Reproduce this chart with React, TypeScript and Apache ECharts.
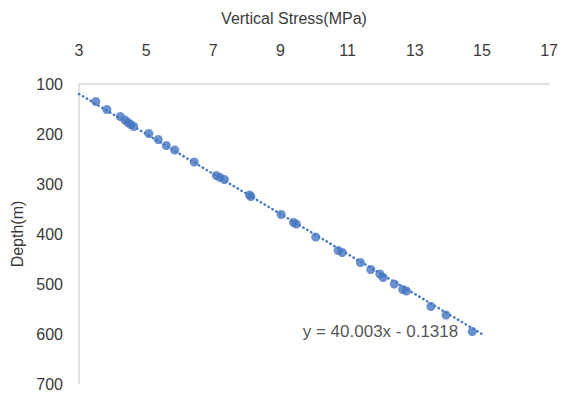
import React, { useEffect, useRef } from "react";
import * as echarts from "echarts";

// Measured vertical stress (MPa) and matching depth (m)
const stress = [
  3.5, 3.83, 4.23, 4.37, 4.46, 4.54, 4.63, 5.08, 5.36, 5.6, 5.85, 6.43, 7.09, 7.2, 7.33,
  8.08, 8.12, 9.02, 9.39, 9.47, 10.05, 10.72, 10.84, 11.38, 11.69, 11.96, 12.06, 12.39,
  12.64, 12.75, 13.48, 13.93, 14.71,
];
const depth = [
  135, 151, 165, 172, 177, 181, 185, 199, 211, 223, 232, 256, 283, 287, 291,
  322, 325, 361, 377, 380, 406, 433, 437, 457, 471, 480, 487, 500,
  511, 514, 545, 562, 595,
];

// Linear fit: depth = slope * stress + intercept
const slope = 40.003;
const intercept = -0.1318;
const fitRange = [3, 15];
const equationText = "y = 40.003x - 0.1318";

const xTicks = [3, 17, 2]; // min, max, interval
const yTicks = [100, 700, 100];

const FONT = "'Liberation Sans', Arial, sans-serif";
const TEXT = "#3a3a3a";
const BLUE = "#4677c2";

export default function App() {
  const ref = useRef<HTMLDivElement>(null);

  useEffect(() => {
    if (!ref.current) return;
    const chart = echarts.init(ref.current, undefined, { renderer: "svg" });
    const points = stress.map((s, i) => [s, depth[i]]);
    const fit = fitRange.map((s) => [s, slope * s + intercept]);

    chart.setOption({
      animation: false,
      backgroundColor: "#ffffff",
      grid: { left: 79, top: 84, right: 11, bottom: 12, containLabel: false },
      xAxis: {
        type: "value",
        position: "top",
        min: xTicks[0],
        max: xTicks[1],
        interval: xTicks[2],
        axisLine: { show: true, lineStyle: { color: "#d9d9d9", width: 1.5 } },
        axisTick: { show: false },
        splitLine: { show: false },
        axisLabel: { color: TEXT, fontSize: 16, fontFamily: FONT, margin: 26 },
      },
      yAxis: {
        type: "value",
        inverse: true,
        min: yTicks[0],
        max: yTicks[1],
        interval: yTicks[2],
        name: "Depth(m)",
        nameLocation: "middle",
        nameGap: 54,
        nameTextStyle: { color: TEXT, fontSize: 16, fontFamily: FONT },
        axisLine: { show: true, lineStyle: { color: "#d9d9d9", width: 1.5 } },
        axisTick: { show: false },
        splitLine: { show: false },
        axisLabel: { color: TEXT, fontSize: 16, fontFamily: FONT, margin: 16 },
      },
      graphic: [
        {
          type: "text",
          x: 294,
          y: 18,
          style: {
            text: "Vertical Stress(MPa)",
            fill: TEXT,
            fontSize: 16,
            fontFamily: FONT,
            textAlign: "center",
            textVerticalAlign: "middle",
          },
        },
      ],
      series: [
        {
          type: "line",
          data: fit,
          symbol: "none",
          silent: true,
          lineStyle: { color: BLUE, width: 2.4, type: [0.5, 4], cap: "round" },
          z: 1,
        },
        {
          type: "scatter",
          data: points,
          symbolSize: 9,
          itemStyle: { color: BLUE },
          z: 2,
        },
        {
          type: "scatter",
          data: [[stress[stress.length - 1], depth[depth.length - 1]]],
          symbolSize: 0,
          silent: true,
          label: {
            show: true,
            position: "left",
            distance: 14,
            formatter: equationText,
            color: "#262626",
            fontSize: 17,
            fontFamily: FONT,
          },
          z: 3,
        },
      ],
    });
    return () => chart.dispose();
  }, []);

  return (
    <div
      ref={ref}
      style={{ position: "absolute", left: 0, top: 0, width: 561, height: 396 }}
    />
  );
}
